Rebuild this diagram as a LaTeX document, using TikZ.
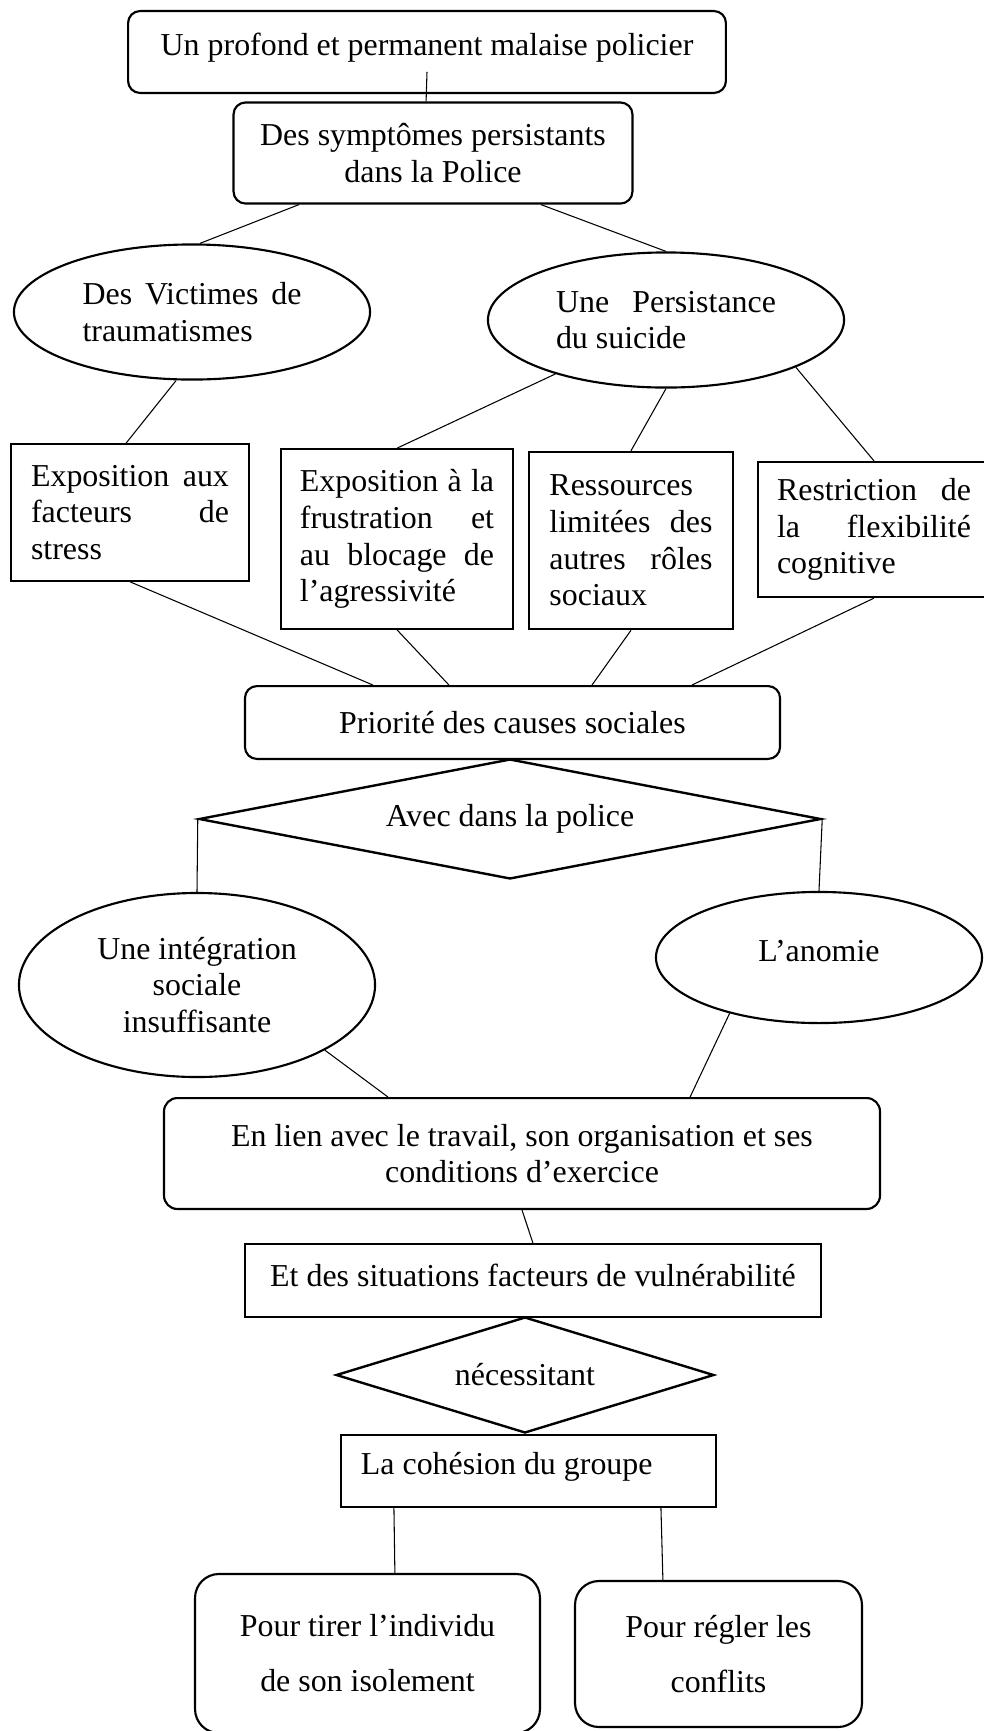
\documentclass[tikz,border=0pt]{standalone}
\usepackage{fontspec}
\setmainfont{Liberation Serif}
\usetikzlibrary{shapes.geometric}

\begin{document}
\begin{tikzpicture}[x=0.376pt, y=-0.376pt,
    every node/.style={font=\fontsize{12}{13.8}\selectfont},
    roundbox/.style={rectangle, rounded corners=4.5pt, draw, line width=0.8pt, align=center, inner sep=0pt},
    plainbox/.style={rectangle, draw, line width=0.6pt, align=flush left},
    bubble/.style={ellipse, draw, line width=0.8pt, align=center, inner sep=0pt},
    choice/.style={diamond, draw, line width=0.9pt, inner sep=0pt},
    link/.style={line width=0.4pt}]
    \useasboundingbox (0,0) rectangle (984,1731);

    \node (malaise) at (427,52) [roundbox, minimum width=224.8pt, minimum height=30.8pt, text depth=6pt] {Un profond et permanent malaise policier};
    \node (symptomes) at (433,153) [roundbox, minimum width=150pt, minimum height=38pt] {Des symptômes persistants\\ dans la Police};

    \node (victimes) at (192,312) [bubble, minimum width=133.9pt, minimum height=50.8pt, text width=82.3pt, align=flush left] {Des\hfill Victimes\hfill de\\ traumatismes};
    \node (persistance) at (666,320) [bubble, minimum width=133.9pt, minimum height=50.8pt, text width=82.7pt, align=flush left] {Une\hfill Persistance\\ du suicide};

    \node (stress) at (130,512.5) [plainbox, minimum width=89.5pt, minimum height=51.5pt, text width=74.4pt] {Exposition\hfill aux\\ facteurs\hfill de\\ stress};
    \node (frustration) at (397,539) [plainbox, minimum width=87.2pt, minimum height=67.7pt, text width=73pt] {Exposition\hfill à\hfill la\\ frustration\hfill et\\ au\hfill blocage\hfill de\\ l’agressivité};
    \node (ressources) at (631,540.5) [plainbox, line width=0.9pt, minimum width=76.7pt, minimum height=66.6pt, text width=61.3pt] {Ressources\\ limitées\hfill des\\ autres\hfill rôles\\ sociaux};
    \node (flexibilite) at (874,529.5) [plainbox, line width=0.8pt, minimum width=87.2pt, minimum height=50.8pt, text width=72.9pt] {Restriction\hfill de\\ la\hfill flexibilité\\ cognitive};

    \node (priorite) at (512.5,722.5) [roundbox, minimum width=201.2pt, minimum height=27.4pt] {Priorité des causes sociales};
    \node (avec) at (510,819) [choice, shape aspect=5.2, minimum width=233.9pt, minimum height=45.1pt] {Avec dans la police};

    \node (integration) at (197,985) [bubble, minimum width=133.9pt, minimum height=69.2pt] {Une intégration\\ sociale\\ insuffisante};
    \node (anomie) at (819,957.5) [bubble, minimum width=122.6pt, minimum height=49.3pt, text depth=5.2pt] {L’anomie};

    \node (lien) at (522,1153.5) [roundbox, rounded corners=5pt, minimum width=269.2pt, minimum height=41.7pt] {En lien avec le travail, son organisation et ses\\ conditions d’exercice};
    \node (situations) at (533,1280.5) [plainbox, minimum width=216.6pt, minimum height=27.4pt, text depth=3.8pt] {Et des situations facteurs de vulnérabilité};
    \node (necessitant) at (525,1375) [choice, shape aspect=3.26, minimum width=142.1pt, minimum height=43.6pt] {nécessitant};
    \node (cohesion) at (528.5,1471) [plainbox, minimum width=141pt, minimum height=27.1pt, text width=126pt, inner xsep=7.5pt, text depth=5.6pt] {La cohésion du groupe};

    \node (isolement) at (367.5,1653.5) [roundbox, rounded corners=9pt, minimum width=129.7pt, minimum height=59.8pt, font=\fontsize{12}{20.7}\selectfont] {Pour tirer l’individu\\ de son isolement};
    \node (conflits) at (718.5,1654) [roundbox, rounded corners=9pt, minimum width=107.9pt, minimum height=54.9pt, font=\fontsize{12}{20.7}\selectfont] {Pour régler les\\ conflits};

    \draw [link] ([yshift=8.3pt]malaise.south) -- ([xshift=-2.6pt]symptomes.north);
    \draw [link] ([xshift=-50.4pt]symptomes.south) -- ([xshift=3pt]victimes.north);
    \draw [link] ([xshift=40.6pt]symptomes.south) -- (persistance.north);
    \draw [link] ([xshift=-6pt]victimes.south) -- ([xshift=-1.5pt]stress.north);
    \draw [link] (persistance.206) -- (frustration.north);
    \draw [link] (persistance.south) -- (ressources.north);
    \draw [link] (persistance.-20) -- (flexibilite.north);
    \draw [link] (stress.south) -- ([xshift=-52.5pt]priorite.north);
    \draw [link] (frustration.south) -- ([xshift=-23.9pt]priorite.north);
    \draw [link] (ressources.south) -- ([xshift=29.9pt]priorite.north);
    \draw [link] (flexibilite.south) -- ([xshift=67.5pt]priorite.north);
    \draw [link] (avec.west) -- (integration.north);
    \draw [link] (avec.east) -- (anomie.north);
    \draw [link] (integration.-27) -- ([xshift=-50.4pt]lien.north);
    \draw [link] (anomie.212) -- ([xshift=63.2pt]lien.north);
    \draw [link] (lien.south) -- (situations.north);
    \draw [link] ([xshift=-50.6pt]cohesion.south) -- ([xshift=10.3pt]isolement.north);
    \draw [link] ([xshift=49.8pt]cohesion.south) -- ([xshift=-20.9pt]conflits.north);
\end{tikzpicture}
\end{document}
